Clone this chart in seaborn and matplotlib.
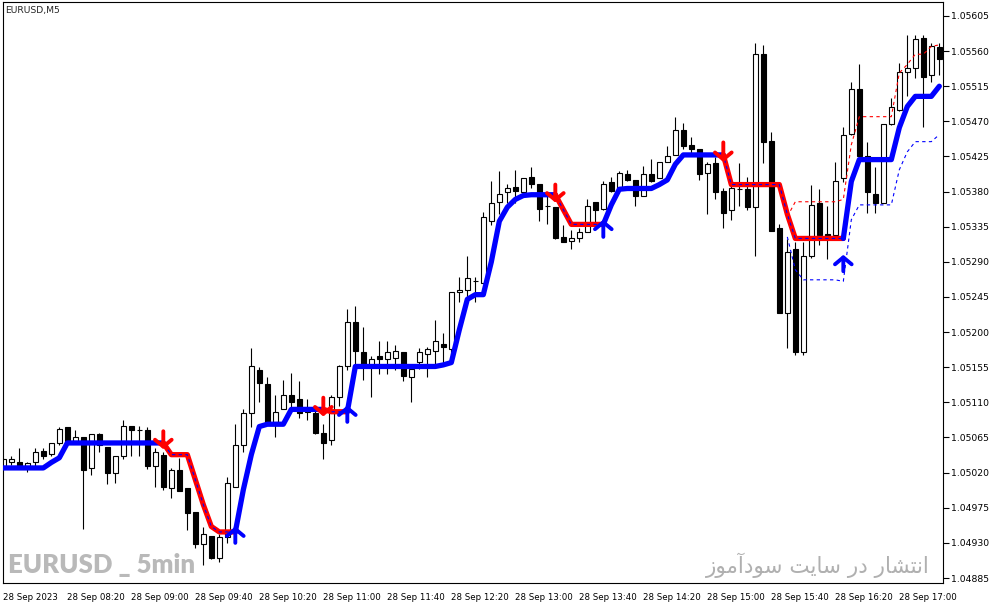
import numpy as np
import pandas as pd
import matplotlib
matplotlib.use("Agg")
import matplotlib.pyplot as plt
import seaborn as sns

# EURUSD M5, 28 Sep 2023, bars from 07:40 to 17:25 (index = bar number)
opens = [1.05028, 1.05034, 1.05034, 1.05029, 1.05034, 1.05048, 1.05044, 1.05058, 1.05078, 1.05060,
         1.05066, 1.05026, 1.05069, 1.05053, 1.05019, 1.05041, 1.05080, 1.05074, 1.05074, 1.05028,
         1.05043, 1.05000, 1.05023, 1.05000, 1.04969, 1.04928, 1.04939, 1.04911, 1.04938, 1.05002,
         1.05056, 1.05097, 1.05152, 1.05134, 1.05085, 1.05102, 1.05120, 1.05114, 1.05102, 1.05097,
         1.05071, 1.05062, 1.05117, 1.05156, 1.05213, 1.05175, 1.05156, 1.05169, 1.05165, 1.05167,
         1.05174, 1.05143, 1.05162, 1.05172, 1.05176, 1.05185, 1.05178, 1.05251, 1.05254, 1.05265,
         1.05263, 1.05342, 1.05367, 1.05379, 1.05386, 1.05380, 1.05399, 1.05390, 1.05361, 1.05360,
         1.05322, 1.05317, 1.05321, 1.05328, 1.05367, 1.05358, 1.05392, 1.05384, 1.05402, 1.05395,
         1.05374, 1.05402, 1.05397, 1.05418, 1.05427, 1.05459, 1.05440, 1.05434, 1.05404, 1.05417,
         1.05381, 1.05356, 1.05383, 1.05383, 1.05360, 1.05556, 1.05445, 1.05333, 1.05225, 1.05306,
         1.05174, 1.05297, 1.05366, 1.05326, 1.05324, 1.05398, 1.05454, 1.05512, 1.05426, 1.05377,
         1.05366, 1.05467, 1.05485, 1.05533, 1.05538, 1.05577, 1.05529, 1.05565]
highs = [1.05039, 1.05041, 1.05051, 1.05033, 1.05051, 1.05052, 1.05058, 1.05078, 1.05078, 1.05074,
         1.05066, 1.05069, 1.05071, 1.05053, 1.05041, 1.05087, 1.05080, 1.05080, 1.05079, 1.05052,
         1.05047, 1.05026, 1.05039, 1.05000, 1.04969, 1.04950, 1.04939, 1.04942, 1.05014, 1.05082,
         1.05101, 1.05180, 1.05155, 1.05143, 1.05120, 1.05139, 1.05148, 1.05137, 1.05114, 1.05099,
         1.05082, 1.05120, 1.05158, 1.05230, 1.05234, 1.05207, 1.05169, 1.05188, 1.05188, 1.05184,
         1.05174, 1.05155, 1.05180, 1.05181, 1.05216, 1.05199, 1.05251, 1.05271, 1.05297, 1.05271,
         1.05354, 1.05393, 1.05406, 1.05390, 1.05408, 1.05398, 1.05411, 1.05390, 1.05374, 1.05360,
         1.05337, 1.05331, 1.05334, 1.05370, 1.05367, 1.05393, 1.05399, 1.05406, 1.05408, 1.05395,
         1.05413, 1.05422, 1.05418, 1.05438, 1.05476, 1.05468, 1.05450, 1.05434, 1.05418, 1.05424,
         1.05384, 1.05392, 1.05417, 1.05399, 1.05570, 1.05568, 1.05456, 1.05339, 1.05319, 1.05315,
         1.05315, 1.05389, 1.05383, 1.05362, 1.05418, 1.05463, 1.05520, 1.05543, 1.05444, 1.05412,
         1.05466, 1.05500, 1.05545, 1.05580, 1.05580, 1.05580, 1.05570, 1.05571]
lows = [1.05025, 1.05030, 1.05028, 1.05021, 1.05028, 1.05037, 1.05041, 1.05056, 1.05058, 1.05058,
        1.04948, 1.05017, 1.05046, 1.05006, 1.05007, 1.05037, 1.05041, 1.05041, 1.05025, 1.05002,
        1.04998, 1.04988, 1.04997, 1.04947, 1.04923, 1.04902, 1.04909, 1.04906, 1.04930, 1.05002,
        1.05046, 1.05078, 1.05111, 1.05085, 1.05065, 1.05101, 1.05101, 1.05090, 1.05088, 1.05069,
        1.05038, 1.05055, 1.05105, 1.05152, 1.05152, 1.05139, 1.05117, 1.05146, 1.05146, 1.05152,
        1.05137, 1.05110, 1.05153, 1.05143, 1.05156, 1.05161, 1.05171, 1.05238, 1.05239, 1.05239,
        1.05263, 1.05337, 1.05351, 1.05366, 1.05366, 1.05379, 1.05385, 1.05342, 1.05338, 1.05319,
        1.05315, 1.05306, 1.05316, 1.05328, 1.05338, 1.05357, 1.05379, 1.05383, 1.05393, 1.05362,
        1.05374, 1.05392, 1.05397, 1.05418, 1.05427, 1.05434, 1.05430, 1.05395, 1.05351, 1.05370,
        1.05334, 1.05343, 1.05361, 1.05357, 1.05297, 1.05417, 1.05329, 1.05225, 1.05180, 1.05171,
        1.05171, 1.05295, 1.05311, 1.05294, 1.05324, 1.05392, 1.05452, 1.05426, 1.05353, 1.05353,
        1.05365, 1.05465, 1.05483, 1.05502, 1.05525, 1.05463, 1.05520, 1.05530]
closes = [1.05037, 1.05037, 1.05029, 1.05032, 1.05047, 1.05041, 1.05058, 1.05076, 1.05058, 1.05065,
          1.05023, 1.05069, 1.05055, 1.05020, 1.05041, 1.05080, 1.05074, 1.05074, 1.05029, 1.05047,
          1.05002, 1.05024, 1.04997, 1.04968, 1.04929, 1.04941, 1.04911, 1.04938, 1.05007, 1.05055,
          1.05096, 1.05156, 1.05135, 1.05085, 1.05098, 1.05119, 1.05111, 1.05097, 1.05098, 1.05071,
          1.05058, 1.05117, 1.05156, 1.05213, 1.05176, 1.05157, 1.05166, 1.05165, 1.05175, 1.05176,
          1.05144, 1.05153, 1.05174, 1.05178, 1.05188, 1.05181, 1.05251, 1.05254, 1.05269, 1.05265,
          1.05347, 1.05366, 1.05377, 1.05385, 1.05381, 1.05398, 1.05390, 1.05358, 1.05361, 1.05320,
          1.05315, 1.05320, 1.05328, 1.05361, 1.05357, 1.05390, 1.05381, 1.05404, 1.05395, 1.05374,
          1.05403, 1.05393, 1.05418, 1.05426, 1.05459, 1.05439, 1.05434, 1.05402, 1.05416, 1.05379,
          1.05353, 1.05385, 1.05383, 1.05360, 1.05556, 1.05444, 1.05329, 1.05225, 1.05303, 1.05174,
          1.05297, 1.05363, 1.05324, 1.05322, 1.05394, 1.05453, 1.05511, 1.05426, 1.05379, 1.05366,
          1.05466, 1.05488, 1.05533, 1.05538, 1.05575, 1.05527, 1.05566, 1.05550]

# trailing stop line (one value per bar)
stop = [1.05026, 1.05026, 1.05026, 1.05026, 1.05026, 1.05026, 1.05033, 1.05039, 1.05058, 1.05058,
        1.05058, 1.05058, 1.05058, 1.05058, 1.05058, 1.05058, 1.05058, 1.05058, 1.05058, 1.05058,
        1.05058, 1.05043, 1.05043, 1.05043, 1.05011, 1.04979, 1.04951, 1.04944, 1.04944, 1.04944,
        1.04998, 1.05043, 1.05079, 1.05082, 1.05082, 1.05082, 1.05101, 1.05101, 1.05101, 1.05101,
        1.05101, 1.05098, 1.05098, 1.05098, 1.05156, 1.05156, 1.05156, 1.05156, 1.05156, 1.05156,
        1.05156, 1.05156, 1.05156, 1.05156, 1.05156, 1.05158, 1.05161, 1.05203, 1.05242, 1.05248,
        1.05248, 1.05290, 1.05342, 1.05360, 1.05370, 1.05375, 1.05376, 1.05376, 1.05376, 1.05376,
        1.05357, 1.05338, 1.05338, 1.05338, 1.05338, 1.05338, 1.05363, 1.05383, 1.05384, 1.05384,
        1.05384, 1.05384, 1.05389, 1.05395, 1.05415, 1.05427, 1.05427, 1.05427, 1.05427, 1.05427,
        1.05427, 1.05389, 1.05389, 1.05389, 1.05389, 1.05389, 1.05389, 1.05389, 1.05351, 1.05320,
        1.05320, 1.05320, 1.05320, 1.05320, 1.05320, 1.05320, 1.05393, 1.05421, 1.05421, 1.05421,
        1.05421, 1.05421, 1.05462, 1.05489, 1.05502, 1.05502, 1.05502, 1.05515]

# trend flips: red arrows (down) and blue arrows (up)
down_bars = [20, 40, 69, 90]
down_tip = [1.05050, 1.05092, 1.05366, 1.05418]
down_tail = [1.05073, 1.05116, 1.05389, 1.05443]
up_bars = [29, 43, 75, 105]
up_tip = [1.04951, 1.05106, 1.05344, 1.05299]
up_tail = [1.04930, 1.05085, 1.05322, 1.05278]

# thin dotted bands at the end of the session (bars 98..117)
band_start = 98
band_upper = [1.05348, 1.05367, 1.05367, 1.05367, 1.05367, 1.05367, 1.05367, 1.05370, 1.05440, 1.05476,
              1.05476, 1.05476, 1.05476, 1.05476, 1.05532, 1.05543, 1.05556, 1.05556, 1.05566, 1.05568]
band_lower = [1.05322, 1.05280, 1.05267, 1.05267, 1.05267, 1.05267, 1.05267, 1.05265, 1.05344, 1.05363,
              1.05363, 1.05363, 1.05363, 1.05363, 1.05408, 1.05431, 1.05444, 1.05444, 1.05444, 1.05453]

tick_bars = [0, 8, 16, 24, 32, 40, 48, 56, 64, 72, 80, 88, 96, 104, 112]
tick_labels = ["28 Sep 2023", "28 Sep 08:20", "28 Sep 09:00", "28 Sep 09:40", "28 Sep 10:20",
               "28 Sep 11:00", "28 Sep 11:40", "28 Sep 12:20", "28 Sep 13:00", "28 Sep 13:40",
               "28 Sep 14:20", "28 Sep 15:00", "28 Sep 15:40", "28 Sep 16:20", "28 Sep 17:00"]
price_ticks = [1.04885, 1.04930, 1.04975, 1.05020, 1.05065, 1.05110, 1.05155, 1.05200, 1.05245,
               1.05290, 1.05335, 1.05380, 1.05425, 1.05470, 1.05515, 1.05560, 1.05605]

df = pd.DataFrame({"open": opens, "high": highs, "low": lows, "close": closes, "stop": stop})
df["bar"] = np.arange(len(df))

sns.set_style("white")
plt.rcParams["font.family"] = ["DejaVu Sans"]

fig = plt.figure(figsize=(9.91, 6.05), dpi=100)
ax = fig.add_axes([3 / 991, 22 / 605, 940 / 991, 581 / 605])

# candles
up = df["close"] >= df["open"]
ax.vlines(df["bar"], df["low"], df["high"], color="black", lw=0.8, zorder=1)
ax.bar(df["bar"], df["close"] - df["open"], bottom=df["open"], width=0.6,
       color=np.where(up, "white", "black"), edgecolor="black", linewidth=0.8, zorder=2)

# trailing stop, coloured by trend
flips = sorted([(b, "down") for b in down_bars] + [(b, "up") for b in up_bars])
edges = [(0, "up")] + flips
for k, (start, trend) in enumerate(edges):
    end = edges[k + 1][0] if k + 1 < len(edges) else len(df) - 1
    seg = df.iloc[start:end + 1]
    sns.lineplot(x=seg["bar"], y=seg["stop"], ax=ax, sort=False, legend=False,
                 color="#0000ff" if trend == "up" else "#ff0000", linewidth=3.8, zorder=3)
ax.plot(df["bar"], df["stop"], color="#0000ff", lw=0.8, ls=(0, (3, 3)), zorder=4)

band_x = np.arange(band_start, band_start + len(band_upper))
ax.plot(band_x, band_upper, color="#ff0000", lw=0.8, ls=(0, (3, 3)), zorder=4)
ax.plot(band_x, band_lower, color="#0000ff", lw=0.8, ls=(0, (3, 3)), zorder=4)

for b, t0, t1 in zip(down_bars, down_tip, down_tail):
    ax.annotate("", xy=(b, t0), xytext=(b, t1), zorder=5,
                arrowprops=dict(arrowstyle="->,head_width=0.6,head_length=0.5",
                                color="#ff0000", lw=2.8, shrinkA=0, shrinkB=0))
for b, t0, t1 in zip(up_bars, up_tip, up_tail):
    ax.annotate("", xy=(b, t0), xytext=(b, t1), zorder=5,
                arrowprops=dict(arrowstyle="->,head_width=0.6,head_length=0.5",
                                color="#0000ff", lw=2.8, shrinkA=0, shrinkB=0))

ax.set_xlim(-0.04, 117.46)
ax.set_ylim(1.048786, 1.056229)
ax.set_xlabel("")
ax.set_ylabel("")

ax.yaxis.tick_right()
ax.set_yticks(price_ticks)
ax.set_yticklabels([f"{v:.5f}" for v in price_ticks])
ax.set_xticks(tick_bars)
ax.set_xticklabels(tick_labels)
for lab in ax.get_xticklabels():
    lab.set_horizontalalignment("left")
ax.tick_params(axis="both", direction="out", length=4, width=0.8, colors="black", pad=2)
ax.tick_params(axis="y", labelsize=6.7)
ax.tick_params(axis="x", labelsize=6.2, pad=3)
for s in ax.spines.values():
    s.set_color("black")
    s.set_linewidth(0.8)

ax.text(0.002, 0.993, "EURUSD,M5", transform=ax.transAxes, fontsize=6.7, va="top", ha="left")

fig.text(8 / 991, 28 / 605, "EURUSD _ 5min", fontsize=18.5, fontweight="heavy", color="#b9b9b9",
         family=["Lato"], va="bottom", ha="left")
fa_text = ("\uFEAF\uFEEE\uFEE3\uFE81\uFEA9\uFEEE\uFEB3 \uFE96\uFBFE\uFE8E\uFEB3 "
           "\uFEAD\uFEA9 \uFEAD\uFE8E\uFEB8\uFE98\uFEE7\uFE8D")
fig.text(930 / 991, 27 / 605, fa_text, fontsize=15.5, color="#b0b0b0",
         family=["DejaVu Sans"], va="bottom", ha="right")

fig.savefig("out.png", dpi=100, facecolor="white")
